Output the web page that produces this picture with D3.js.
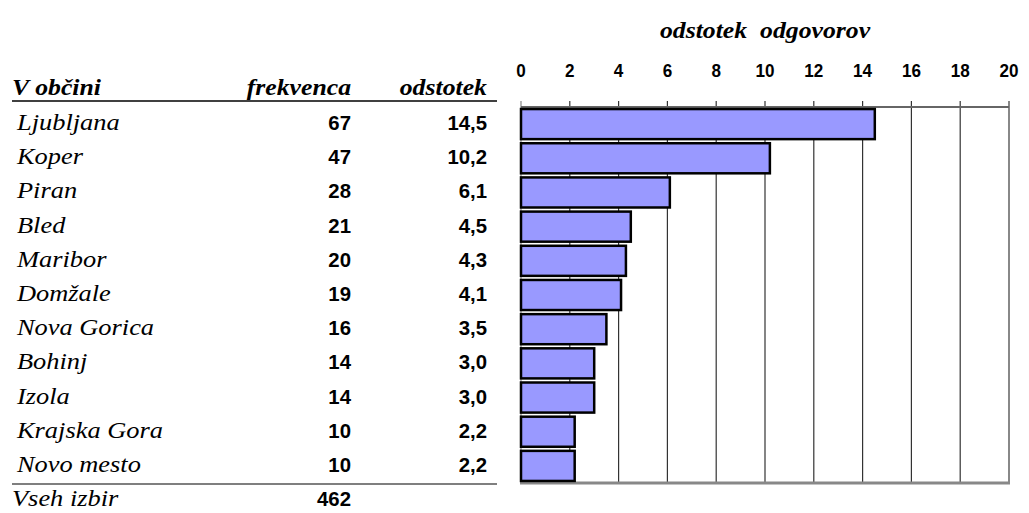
<!DOCTYPE html>
<html lang="sl">
<head>
<meta charset="utf-8">
<title>V občini</title>
<script src="https://cdn.jsdelivr.net/npm/d3@7"></script>
<style>
  body { margin: 0; background: #fff; }
  .serif { font-family: "Liberation Serif", "DejaVu Serif", "Nimbus Roman", "Tinos", "Noto Serif", "FreeSerif", "Times New Roman", Times, serif; font-style: italic; }
  .num { font-family: "Liberation Sans", "DejaVu Sans", Arial, sans-serif; font-weight: bold; }
</style>
</head>
<body>
<svg id="chart"></svg>
<script>
const cities = ["Ljubljana", "Koper", "Piran", "Bled", "Maribor", "Domžale", "Nova Gorica", "Bohinj", "Izola", "Krajska Gora", "Novo mesto"]
const freq = [67, 47, 28, 21, 20, 19, 16, 14, 14, 10, 10]
const pct = [14.5, 10.2, 6.1, 4.5, 4.3, 4.1, 3.5, 3.0, 3.0, 2.2, 2.2]
const total = 462
const ticks = [0, 2, 4, 6, 8, 10, 12, 14, 16, 18, 20]

const width = 1029
const height = 513
const plotTop = 107, plotBottom = 483

const svg = d3.select("#chart")
    .attr("width", width)
    .attr("height", height)

const x = d3.scaleLinear().domain([0, 20]).range([521, 1009])
const y = d3.scaleBand().domain(d3.range(cities.length)).range([plotTop, plotBottom]).paddingInner(0.12).paddingOuter(0.06)
const row = d3.scaleBand().domain(d3.range(cities.length)).range([plotTop, plotBottom])

// text helper; sx stretches glyphs sideways (the picture is wider than tall)
const label = (g, cls, px, py, txt, anchor, size, bold, sx) => g.append("text")
    .attr("class", cls)
    .attr("transform", `translate(${px},${py}) scale(${sx || 1},1)`)
    .attr("text-anchor", anchor || "start")
    .attr("font-size", size)
    .attr("font-weight", bold ? "bold" : "normal")
    .text(txt)

// title
label(svg, "serif", (x(0) + x(20)) / 2, 38, "odstotek\u00a0\u00a0odgovorov", "middle", 23, true, 1.12)

// grid
svg.append("g")
    .selectAll("line")
    .data(ticks)
    .join("line")
    .attr("x1", d => x(d)).attr("x2", d => x(d))
    .attr("y1", plotTop - 6).attr("y2", plotBottom)
    .attr("stroke", (d, i) => i === 0 || i === ticks.length - 1 ? "#888" : "#333")
    .attr("stroke-width", (d, i) => i === ticks.length - 1 ? 2 : 1.2)

// tick labels
const tg = svg.append("g")
ticks.forEach(t => label(tg, "num", x(t), 77, t, "middle", 18, true, 0.95))

// frame top/bottom
svg.append("line").attr("x1", x(0)).attr("x2", x(20)).attr("y1", plotTop).attr("y2", plotTop)
    .attr("stroke", "#666").attr("stroke-width", 2)
svg.append("line").attr("x1", x(0) - 1).attr("x2", x(20) + 1).attr("y1", plotBottom).attr("y2", plotBottom)
    .attr("stroke", "#888").attr("stroke-width", 3)

// bars
svg.append("g")
    .selectAll("rect")
    .data(pct)
    .join("rect")
    .attr("x", x(0))
    .attr("y", (d, i) => y(i))
    .attr("width", d => x(d) - x(0))
    .attr("height", y.bandwidth())
    .attr("fill", "#9999ff")
    .attr("stroke", "#000")
    .attr("stroke-width", 2.5)

// table
const colName = 17, colFreq = 351, colPct = 487

const header = svg.append("g")
label(header, "serif", colName - 5, 95, "V občini", "start", 23, true, 1.12)
label(header, "serif", colFreq, 95, "frekvenca", "end", 23, true, 1.12)
label(header, "serif", colPct, 95, "odstotek", "end", 23, true, 1.12)

svg.append("line").attr("x1", 12).attr("x2", 497).attr("y1", 101).attr("y2", 101)
    .attr("stroke", "#000").attr("stroke-width", 1.5)

const body = svg.append("g")
cities.forEach((c, i) => {
    const by = row(i) + row.bandwidth() / 2 + 6
    label(body, "serif", colName, by, c, "start", 24, false, 1.1)
    label(body, "num", colFreq, by, freq[i], "end", 21, true, 0.97)
    label(body, "num", colPct, by, pct[i].toFixed(1).replace(".", ","), "end", 21, true, 0.97)
})

svg.append("line").attr("x1", 12).attr("x2", 497).attr("y1", 484).attr("y2", 484)
    .attr("stroke", "#000").attr("stroke-width", 1.2)

label(svg, "serif", colName - 5, 506, "Vseh izbir", "start", 24, false, 1.1)
label(svg, "num", colFreq, 506, total, "end", 21, true, 0.97)
</script>
</body>
</html>
